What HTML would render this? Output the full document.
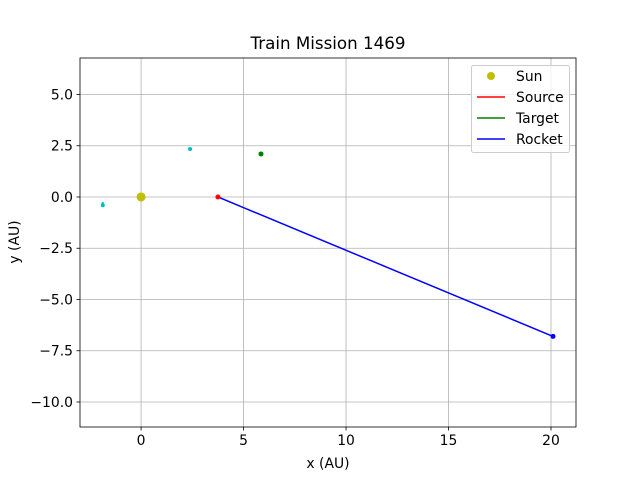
<!DOCTYPE html>
<html><head><meta charset="utf-8"><style>
body{margin:0;background:#fff}
svg text{font-family:"DejaVu Sans","Liberation Sans",sans-serif;fill:#000}
</style></head><body>
<svg id="chart" width="640" height="480" xmlns="http://www.w3.org/2000/svg">
<rect width="640" height="480" fill="#fff"/>
<g id="grid"></g>
<g id="ticks"></g>
<g id="marks"></g>
<rect x="80" y="58" width="496" height="369" fill="none" stroke="#000" stroke-width="0.8"/>
<text x="328" y="49" font-size="16.7" text-anchor="middle">Train Mission 1469</text>
<text x="328" y="468" font-size="13.9" text-anchor="middle">x (AU)</text>
<text x="19" y="242" font-size="13.9" text-anchor="middle" transform="rotate(-90 19 242)">y (AU)</text>
<g>
<rect x="471.5" y="65.5" width="98" height="87" rx="2" fill="#fff" fill-opacity="0.8" stroke="#ccc"/>
<circle cx="491" cy="76" r="4" fill="#bfbf00"/>
<text x="516" y="81" font-size="13.9">Sun</text>
<line x1="477" y1="97" x2="505" y2="97" stroke="red" stroke-width="1.5"/>
<text x="516" y="102" font-size="13.9">Source</text>
<line x1="477" y1="118" x2="505" y2="118" stroke="green" stroke-width="1.5"/>
<text x="516" y="123" font-size="13.9">Target</text>
<line x1="477" y1="139" x2="505" y2="139" stroke="blue" stroke-width="1.5"/>
<text x="516" y="144" font-size="13.9">Rocket</text>
</g>
</svg>
<script>
const xTicks=[0,5,10,15,20];
const yTicks=[5.0,2.5,0.0,-2.5,-5.0,-7.5,-10.0];
const sunPos=[0,0];
const sourcePos=[3.75,0];
const targetPos=[5.85,2.1];
const otherX=[2.39,-1.87,-1.87];
const otherY=[2.34,-0.3,-0.4];
const rocketX=[3.75,20.1];
const rocketY=[0,-6.8];
const X0=-2.98,X1=21.22,Y0=-11.22,Y1=6.78;
const L=80,R=576,T=58,B=427;
const sx=v=>L+(v-X0)/(X1-X0)*(R-L);
const sy=v=>B-(v-Y0)/(Y1-Y0)*(B-T);
const NS="http://www.w3.org/2000/svg";
function mk(p,tag,a){const e=document.createElementNS(NS,tag);for(const k in a)e.setAttribute(k,a[k]);document.getElementById(p).appendChild(e);return e;}
xTicks.forEach(v=>{const x=sx(v);
let g=mk('grid','line',{x1:x,x2:x,y1:T,y2:B,stroke:'#b0b0b0','stroke-width':0.8});


mk('ticks','line',{x1:x,x2:x,y1:B,y2:B+3.5,stroke:'#000','stroke-width':0.8});
let t=mk('ticks','text',{x:x,y:B+18,'font-size':13.9,'text-anchor':'middle'});t.textContent=v;

});
yTicks.forEach(v=>{const y=sy(v);
let g=mk('grid','line',{x1:L,x2:R,y1:y,y2:y,stroke:'#b0b0b0','stroke-width':0.8});


mk('ticks','line',{x1:L-3.5,x2:L,y1:y,y2:y,stroke:'#000','stroke-width':0.8});
let t=mk('ticks','text',{x:L-7,y:y+5,'font-size':13.9,'text-anchor':'end'});t.textContent=(v<0?'\u2212':'')+Math.abs(v).toFixed(1);

});
let ol=mk('marks','line',{x1:sx(otherX[1]),y1:sy(otherY[1]),x2:sx(otherX[2]),y2:sy(otherY[2]),stroke:'#00bfbf','stroke-width':1.5});


otherX.forEach((v,i)=>{let c=mk('marks','circle',{cx:sx(v),cy:sy(otherY[i]),r:i==1?1.2:2,fill:'#00bfbf'});

});
let s=mk('marks','circle',{cx:sx(sunPos[0]),cy:sy(sunPos[1]),r:4.5,fill:'#bfbf00'});


let tg=mk('marks','circle',{cx:sx(targetPos[0]),cy:sy(targetPos[1]),r:2.5,fill:'green'});


let rl=mk('marks','polyline',{points:rocketX.map((v,i)=>sx(v)+','+sy(rocketY[i])).join(' '),fill:'none',stroke:'blue','stroke-width':1.5});


let src=mk('marks','circle',{cx:sx(sourcePos[0]),cy:sy(sourcePos[1]),r:2.5,fill:'red'});


let re=mk('marks','circle',{cx:sx(rocketX[1]),cy:sy(rocketY[1]),r:2.5,fill:'blue'});


</script>
</body></html>
